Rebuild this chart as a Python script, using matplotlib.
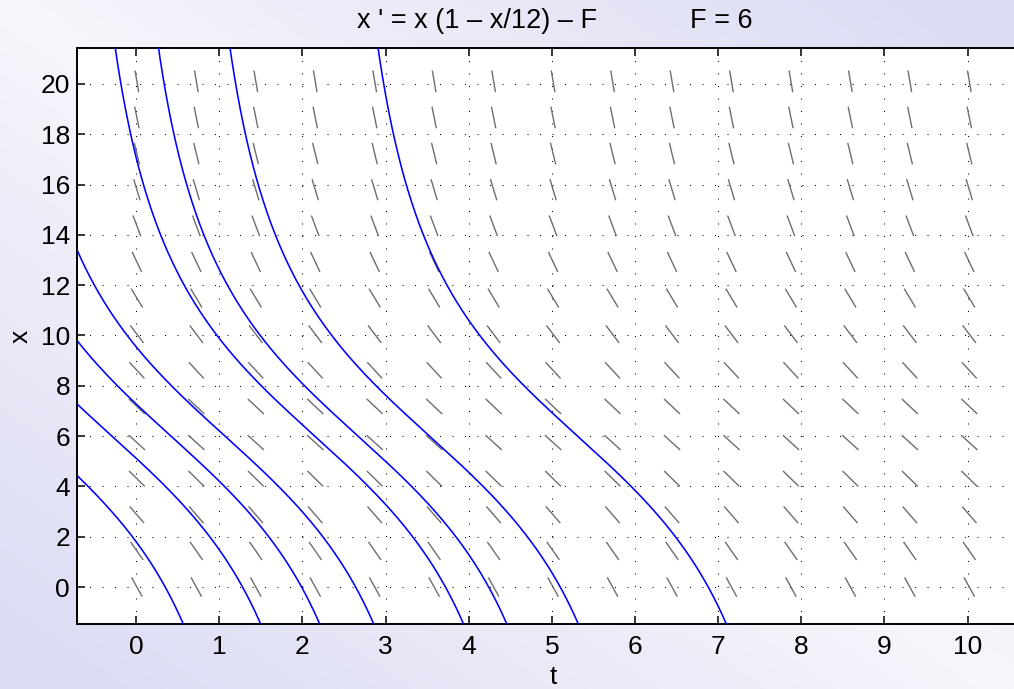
import numpy as np
import matplotlib
matplotlib.use("Agg")
import matplotlib.pyplot as plt
from matplotlib.collections import LineCollection

plt.rcParams['font.family'] = ['Liberation Sans', 'DejaVu Sans']

# equation x' = r x (1 - x/K) - F
r = 1.0
K = 12.0
F = 6.0

# direction field grid
field_t = [0.01, 0.725, 1.44, 2.155, 2.87, 3.585, 4.3, 5.015, 5.73, 6.445,
           7.16, 7.875, 8.59, 9.305, 10.02]
field_x = [0.0, 1.436, 2.872, 4.308, 5.744, 7.18, 8.616, 10.052, 11.488,
           12.924, 14.36, 15.796, 17.232, 18.668, 20.104]

# solution curves: times at which each curve crosses x = 6
cross_t = [-1.22, -0.29, 0.42, 1.07, 2.15, 2.67, 3.53, 5.31]
cross_x = [6.0] * len(cross_t)

t_ticks = list(range(0, 11))
x_ticks = list(range(0, 21, 2))
t_lim = (-0.71, 10.75)
x_lim = (-1.47, 21.43)

title_left = "x ' = x (1 \u2013 x/12) \u2013 F"
title_right = "F = 6"


def rhs(x):
    return r * x * (1 - x / K) - F


def integrate(t0, x0, direction, h=0.002):
    ts, xs = [t0], [x0]
    t, x = t0, x0
    for _ in range(20000):
        k1 = rhs(x)
        k2 = rhs(x + 0.5 * h * direction * k1)
        k3 = rhs(x + 0.5 * h * direction * k2)
        k4 = rhs(x + h * direction * k3)
        x = x + h * direction * (k1 + 2 * k2 + 2 * k3 + k4) / 6
        t = t + h * direction
        ts.append(t)
        xs.append(x)
        if x < x_lim[0] - 1 or x > x_lim[1] + 1 or t < t_lim[0] - 1 or t > t_lim[1] + 1:
            break
    return ts, xs


W, H = 1014, 689
fig = plt.figure(figsize=(W / 100, H / 100), dpi=100)

# lavender background
bg = fig.add_axes([0, 0, 1, 1], zorder=-10)
gx, gy = np.meshgrid(np.linspace(0, 1, 300), np.linspace(0, 1, 200))
g = np.clip(np.abs(gx - gy) * 1.1, 0, 1)
light = np.array([246, 246, 252]) / 255
dark = np.array([220, 220, 244]) / 255
img = light[None, None, :] * (1 - g[..., None]) + dark[None, None, :] * g[..., None]
bg.imshow(img, aspect='auto', extent=[0, 1, 1, 0], interpolation='bilinear')
bg.set_xlim(0, 1)
bg.set_ylim(1, 0)
bg.set_axis_off()

left, right, top, bottom = 77, 1030, 48, 624
ax = fig.add_axes([left / W, 1 - bottom / H, (right - left) / W, (bottom - top) / H])
ax.set_facecolor('white')
ax.set_xlim(*t_lim)
ax.set_ylim(*x_lim)

# slope marks of fixed on-screen length
kx = (right - left) / (t_lim[1] - t_lim[0])
ky = (bottom - top) / (x_lim[1] - x_lim[0])
L = 22.0
segs = []
for tt in field_t:
    for xx in field_x:
        s = rhs(xx)
        dx_px, dy_px = kx, ky * s
        n = np.hypot(dx_px, dy_px)
        ut = 0.5 * L * dx_px / n / kx
        ux = 0.5 * L * dy_px / n / ky
        segs.append([(tt - ut, xx - ux), (tt + ut, xx + ux)])
ax.add_collection(LineCollection(segs, colors='#6e6e6e', linewidths=1.0, zorder=2))

for t0, x0 in zip(cross_t, cross_x):
    tb, xb = integrate(t0, x0, -1)
    tf, xf = integrate(t0, x0, 1)
    ts = tb[::-1] + tf[1:]
    xs = xb[::-1] + xf[1:]
    ax.plot(ts, xs, color='#0000ff', lw=1.15, zorder=3)

ax.set_xticks(t_ticks)
ax.set_yticks(x_ticks)
ax.grid(True, color='black', linestyle=(0, (1, 11)), linewidth=0.75, zorder=1)
ax.set_axisbelow(True)
ax.tick_params(direction='in', length=6, width=1.1, top=True, right=True,
               labelsize=19, colors='black')
ax.tick_params(axis='x', pad=8)
ax.tick_params(axis='y', pad=5)
for sp in ax.spines.values():
    sp.set_linewidth(1.4)
    sp.set_color('black')

ax.set_xlabel('t', fontsize=19, labelpad=4)
ax.set_ylabel('x', fontsize=19, labelpad=6)

fig.text(357 / W, 1 - 28 / H, title_left, fontsize=19.5, ha='left', va='baseline')
fig.text(690 / W, 1 - 28 / H, title_right, fontsize=19.5, ha='left', va='baseline')

fig.savefig('out.png', dpi=100)
